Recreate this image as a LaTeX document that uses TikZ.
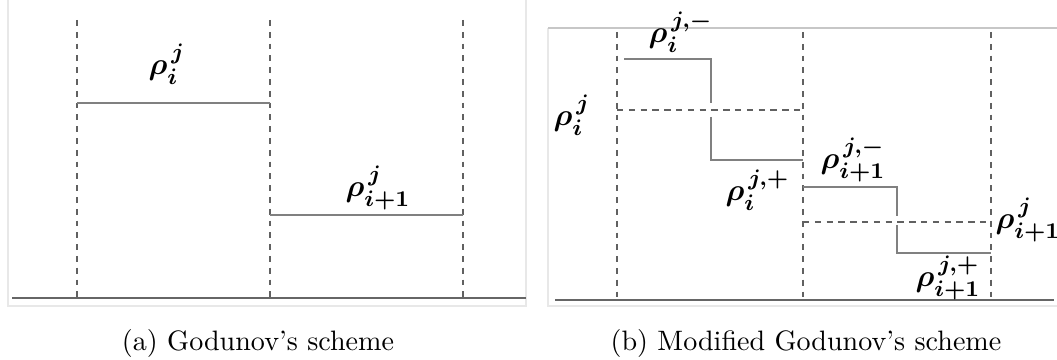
\documentclass[tikz,border=0pt]{standalone}
\usepackage{amsmath,amssymb,bm}
\newcommand{\rholab}[2]{$\bm{\rho}_{\bm{#1}}^{\,\bm{#2}}$}
\tikzset{
  frameline/.style={draw=black!9, line width=0.45pt},
  topline/.style={draw=black!22, line width=0.5pt},
  axisline/.style={draw=black!60, line width=0.6pt},
  cellline/.style={draw=black!62, line width=0.5pt, dash pattern=on 2.1pt off 2.1pt},
  levelline/.style={draw=black!50, line width=0.55pt},
  avgline/.style={draw=black!62, line width=0.5pt, dash pattern=on 2.3pt off 1.9pt},
  lab/.style={inner sep=0pt, anchor=west, font=\fontsize{11}{13}\selectfont},
  capt/.style={inner sep=0pt, font=\fontsize{10}{12}\selectfont}
}
\begin{document}
\begin{tikzpicture}[x=0.356pt, y=-0.356pt]
\useasboundingbox (0,0) rectangle (1057,360);
% ---------- panel (a) ----------
\draw[frameline] (8,0) -- (8,306) -- (526,306) -- (526,0);
\draw[axisline] (12,298) -- (526,298);
\foreach \xx in {77,270,463} \draw[cellline] (\xx,20) -- (\xx,298);
\draw[levelline] (77,103) -- (270,103);
\draw[levelline] (270,215) -- (463,215);
\node[lab] (ai) at (148,64) {\rholab{i}{j}};
\node[lab] (aip) at (345,188) {\rholab{i+1}{j}};
\node[capt] (capa) at (258,343) {(a) Godunov's scheme};
% ---------- panel (b) ----------
\draw[frameline] (548,28) -- (548,306) -- (1057,306);
\draw[topline] (548,28) -- (1057,28);
\draw[axisline] (555,300) -- (1054,300);
\foreach \xx in {617,803,991} \draw[cellline] (\xx,32) -- (\xx,300);
% cell i
\draw[avgline] (617,110) -- (803,110);
\draw[levelline] (624,59) -- (711,59) -- (711,103);
\draw[levelline] (711,117) -- (711,160) -- (803,160);
% cell i+1
\draw[avgline] (803,222) -- (991,222);
\draw[levelline] (803,187) -- (897,187) -- (897,216);
\draw[levelline] (897,225) -- (897,253) -- (991,253);
\node[lab] (bim) at (648,32) {\rholab{i}{j,-}};
\node[lab] (bi) at (553,115) {\rholab{i}{j}};
\node[lab] (bip) at (725,190) {\rholab{i}{j,+}};
\node[lab] (bi1m) at (820,160) {\rholab{i+1}{j,-}};
\node[lab] (bi1) at (995,220) {\rholab{i+1}{j}};
\node[lab] (bi1p) at (915,278) {\rholab{i+1}{j,+}};
\node[capt] (capb) at (806,343) {(b) Modified Godunov's scheme};
\end{tikzpicture}
\end{document}
